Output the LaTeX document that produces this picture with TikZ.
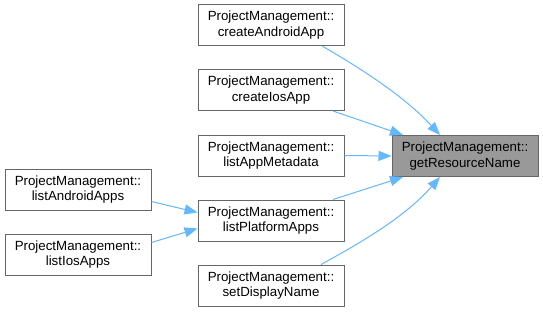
\documentclass[tikz,border=0pt]{standalone}
\usepackage{fontspec}
\setmainfont{Liberation Sans}
\usetikzlibrary{arrows.meta}
\definecolor{edgeblue}{HTML}{63B8FF}
\definecolor{boxline}{HTML}{666666}
\definecolor{focusfill}{HTML}{999999}
\begin{document}
\begin{tikzpicture}[x=1pt,y=-1pt,
  fn/.style={draw=boxline, line width=1pt, fill=white, minimum width=146pt,
    minimum height=41pt, inner sep=0pt, align=center,
    font=\fontsize{13.3}{15.5}\selectfont},
  focus/.style={fn, fill=focusfill},
  call/.style={draw=edgeblue, line width=1pt,
    -{Triangle[length=13pt,width=10pt,fill=edgeblue]}}]
\useasboundingbox (0,0) rectangle (543,313);
% callee
\node[focus] (res) at (465,156) {ProjectManagement::\\getResourceName};
% direct callers
\node[fn] (cA) at (271,25)    {ProjectManagement::\\createAndroidApp};
\node[fn] (cI) at (271,90)    {ProjectManagement::\\createIosApp};
\node[fn] (lM) at (271,155.5) {ProjectManagement::\\listAppMetadata};
\node[fn] (lP) at (271,220.5) {ProjectManagement::\\listPlatformApps};
\node[fn] (sD) at (271,285.5) {ProjectManagement::\\setDisplayName};
% callers of listPlatformApps
\node[fn] (lA) at (78,189.5)  {ProjectManagement::\\listAndroidApps};
\node[fn] (lI) at (78,254.5)  {ProjectManagement::\\listIosApps};
% call edges
\draw[call] ([xshift=51pt]cA.south) .. controls +(40,23) and +(-35,-38) .. ([xshift=-25pt]res.north);
\draw[call] ([xshift=62pt]cI.south) -- ([xshift=-62pt]res.north);
\draw[call] (lM.east) -- (res.west);
\draw[call] ([xshift=62pt]lP.north) -- ([xshift=-62pt]res.south);
\draw[call] ([xshift=50pt]sD.north) .. controls +(40,-22) and +(-35,40) .. ([xshift=-25pt]res.south);
\draw[call] ([yshift=-12pt]lA.east) -- ([yshift=8pt]lP.west);
\draw[call] ([yshift=12pt]lI.east) -- ([yshift=-8pt]lP.west);
\end{tikzpicture}
\end{document}
